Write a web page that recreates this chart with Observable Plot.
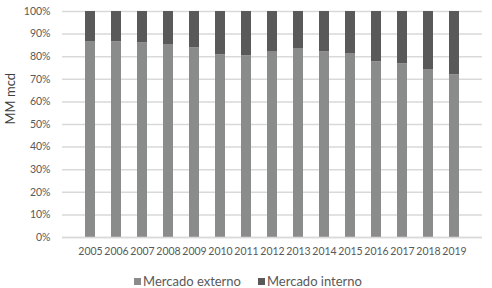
<!DOCTYPE html>
<html>
<head>
<meta charset="utf-8">
<script src="https://cdn.jsdelivr.net/npm/d3@7"></script>
<script src="https://cdn.jsdelivr.net/npm/@observablehq/plot@0.6"></script>
<style>
  body { margin: 0; background: #fff; font-family: Lato, "Open Sans", sans-serif; }
  #chart { width: 492px; height: 288px; overflow: hidden; position: relative; }
  .legend { position: absolute; top: 273px; left: 0; width: 492px; display: flex; justify-content: center; gap: 17px; font-size: 13px; color: #595959; padding-left: 4px; box-sizing: border-box; }
  .legend span.sw { display: inline-block; width: 7px; height: 7px; margin-right: 2px; vertical-align: 1px; }
</style>
</head>
<body>
<div id="chart"></div>
<script>
const years = ["2005","2006","2007","2008","2009","2010","2011","2012","2013","2014","2015","2016","2017","2018","2019"];
const externo = [86.7, 86.6, 86.1, 85.4, 83.9, 80.8, 80.4, 82.3, 83.6, 82.2, 81.4, 77.7, 76.9, 74.3, 72.0];
const interno = [13.3, 13.4, 13.9, 14.6, 16.1, 19.2, 19.6, 17.7, 16.4, 17.8, 18.6, 22.3, 23.1, 25.7, 28.0];
const series = ["Mercado externo", "Mercado interno"];
const colors = ["#8a8b8b", "#595959"];
const yTicks = [0, 10, 20, 30, 40, 50, 60, 70, 80, 90, 100];

const rows = [];
years.forEach((y, i) => rows.push({year: y, serie: series[0], value: externo[i]}));
years.forEach((y, i) => rows.push({year: y, serie: series[1], value: interno[i]}));

const plot = Plot.plot({
  width: 492,
  height: 262,
  marginLeft: 62,
  marginRight: 10,
  marginTop: 11,
  marginBottom: 25,
  style: { fontFamily: "Lato, 'Open Sans', sans-serif", fontSize: "10.5px", color: "#595959" },
  x: { domain: years, padding: 0.6, label: null, tickSize: 0, tickPadding: 10 },
  y: { domain: [0, 100], ticks: yTicks, tickFormat: d => d + "%", label: null, tickSize: 0, tickPadding: 12 },
  color: { domain: series, range: colors },
  marks: [
    Plot.gridY(yTicks, { stroke: "#d9d9d9", strokeOpacity: 1, strokeWidth: 1.5 }),
    Plot.barY(rows, { x: "year", y: "value", fill: "serie", order: series }),
    Plot.ruleY([0], { stroke: "#d9d9d9", strokeWidth: 1.5 }),
    Plot.text(["MM mcd"], { frameAnchor: "left", dx: -52, dy: 0, rotate: -90, fontSize: 13, fill: "#404040" })
  ]
});
const chart = document.getElementById("chart");
chart.appendChild(plot);
const legend = document.createElement("div");
legend.className = "legend";
legend.innerHTML = series.map((s, i) => `<div><span class="sw" style="background:${colors[i]}"></span>${s}</div>`).join("");
chart.appendChild(legend);
</script>
</body>
</html>
